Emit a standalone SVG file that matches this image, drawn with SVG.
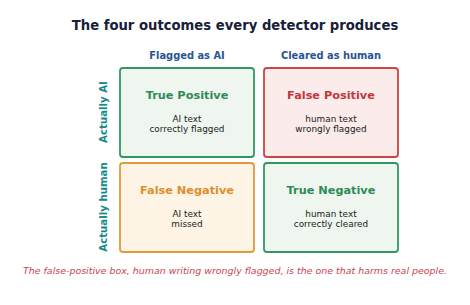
<svg xmlns="http://www.w3.org/2000/svg" width="470" height="305" viewBox="0 0 470 305">
<style>
text{font-family:"DejaVu Sans",sans-serif;text-anchor:middle}
.title{font-size:13.2px;font-weight:bold;fill:#17203a}
.col{font-size:9.9px;font-weight:bold;fill:#2a5595}
.row{font-size:10.2px;font-weight:bold;fill:#16898a}
.h{font-size:11.3px;font-weight:bold}
.s{font-size:8.9px;fill:#222}
.box{stroke-width:1.8}
.foot{font-size:9.45px;font-style:italic;fill:#c84450}
</style>
<rect width="470" height="305" fill="#fff"/>
<text class="title" x="235" y="30">The four outcomes every detector produces</text>
<text class="col" x="187" y="59">Flagged as AI</text>
<text class="col" x="331" y="59">Cleared as human</text>
<text class="row" transform="translate(107,112) rotate(-90)">Actually AI</text>
<text class="row" transform="translate(107,207) rotate(-90)">Actually human</text>
<g id="tp">
<rect class="box" x="120" y="68" width="134" height="89" rx="3" fill="#eef6ef" stroke="#2e9a62"/>
<text class="h" x="187" y="99" fill="#2e8b57">True Positive</text>
<text class="s" x="187" y="122">AI text</text>
<text class="s" x="187" y="132">correctly flagged</text>
</g>
<g id="fp">
<rect class="box" x="264" y="68" width="134" height="89" rx="3" fill="#fbebeb" stroke="#cc4444"/>
<text class="h" x="331" y="99" fill="#c0393b">False Positive</text>
<text class="s" x="331" y="122">human text</text>
<text class="s" x="331" y="132">wrongly flagged</text>
</g>
<g id="fn">
<rect class="box" x="120" y="163" width="134" height="89" rx="3" fill="#fdf4e5" stroke="#e09a3a"/>
<text class="h" x="187" y="194" fill="#df8e2c">False Negative</text>
<text class="s" x="187" y="217">AI text</text>
<text class="s" x="187" y="227">missed</text>
</g>
<g id="tn">
<rect class="box" x="264" y="163" width="134" height="89" rx="3" fill="#eef6ef" stroke="#2e9a62"/>
<text class="h" x="331" y="194" fill="#2e8b57">True Negative</text>
<text class="s" x="331" y="217">human text</text>
<text class="s" x="331" y="227">correctly cleared</text>
</g>
<g id="connectors"/>
<text class="foot" x="235" y="274">The false-positive box, human writing wrongly flagged, is the one that harms real people.</text>
</svg>
